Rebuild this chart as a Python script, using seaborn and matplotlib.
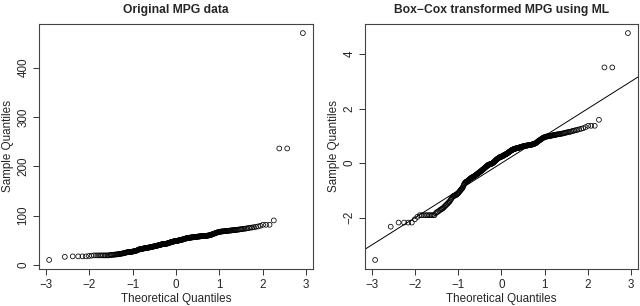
import matplotlib
matplotlib.use("Agg")
import matplotlib.pyplot as plt
import seaborn as sns
from statistics import NormalDist

mpg_sorted = [
    10.0, 16.2, 17.2, 17.2, 17.2, 17.2, 18.0, 18.7, 19.2, 19.2,
    19.2, 19.2, 19.2, 19.2, 19.2, 19.2, 19.2, 19.2, 19.8, 20.1,
    20.3, 20.5, 20.7, 21.0, 21.1, 21.3, 21.6, 22.0, 22.2, 22.5,
    22.8, 23.1, 23.4, 23.7, 24.2, 24.7, 25.1, 25.4, 25.7, 25.8,
    25.9, 26.0, 26.1, 26.4, 26.6, 26.8, 27.1, 27.3, 27.7, 28.0,
    28.4, 28.6, 28.8, 29.2, 29.8, 30.5, 31.0, 31.4, 31.7, 31.9,
    32.1, 32.2, 32.3, 32.6, 32.8, 33.1, 33.3, 33.5, 33.8, 33.9,
    34.1, 34.3, 34.4, 34.6, 34.7, 34.9, 35.0, 35.2, 35.3, 35.7,
    35.8, 36.0, 36.1, 36.3, 36.6, 36.8, 37.0, 37.1, 37.5, 37.7,
    37.8, 38.0, 38.2, 38.5, 38.7, 38.8, 39.0, 39.3, 39.5, 39.6,
    39.8, 40.1, 40.3, 40.5, 40.9, 41.0, 41.2, 41.4, 41.8, 42.0,
    42.1, 42.1, 42.3, 42.3, 42.5, 42.5, 42.7, 42.7, 42.9, 42.9,
    43.1, 43.3, 43.5, 43.7, 43.9, 44.3, 44.5, 44.9, 45.1, 45.3,
    45.7, 45.9, 46.1, 46.4, 46.6, 46.8, 47.0, 47.2, 47.4, 47.6,
    47.8, 47.8, 48.0, 48.0, 48.3, 48.3, 48.5, 48.5, 48.7, 48.9,
    49.2, 49.4, 49.6, 49.6, 49.8, 50.1, 50.3, 50.3, 50.5, 50.8,
    51.0, 51.2, 51.4, 51.7, 51.9, 52.1, 52.4, 52.6, 52.9, 53.1,
    53.3, 53.6, 53.8, 54.1, 54.1, 54.3, 54.6, 54.6, 54.8, 54.8,
    55.1, 55.1, 55.3, 55.3, 55.6, 55.6, 55.6, 55.8, 55.8, 55.8,
    56.1, 56.1, 56.3, 56.3, 56.6, 56.6, 56.8, 56.8, 57.1, 57.1,
    57.3, 57.3, 57.3, 57.6, 57.6, 57.6, 57.9, 57.9, 57.9, 58.1,
    58.1, 58.1, 58.4, 58.4, 58.4, 58.7, 58.7, 58.7, 58.7, 58.9,
    58.9, 59.2, 59.2, 59.5, 59.8, 59.8, 60.1, 60.3, 60.6, 60.9,
    61.5, 62.0, 62.3, 62.9, 63.2, 63.5, 64.0, 64.3, 64.9, 65.2,
    65.8, 66.1, 66.4, 66.8, 67.1, 67.4, 67.4, 67.7, 67.7, 68.0,
    68.0, 68.3, 68.3, 68.6, 68.6, 69.0, 69.0, 69.3, 69.3, 69.6,
    69.9, 69.9, 70.3, 70.3, 70.6, 70.9, 70.9, 71.3, 71.6, 71.9,
    72.3, 72.6, 73.0, 73.3, 73.6, 74.3, 74.7, 75.4, 75.7, 76.4,
    77.1, 77.9, 79.3, 81.3, 81.3, 81.3, 90.1, 236.0, 236.0, 470.0,
]

boxcox_sorted = [
    -3.55, -2.33, -2.18, -2.18, -2.18, -2.18, -2.06, -1.97, -1.91, -1.91,
    -1.91, -1.91, -1.91, -1.91, -1.91, -1.91, -1.91, -1.91, -1.84, -1.80,
    -1.78, -1.75, -1.72, -1.69, -1.68, -1.65, -1.62, -1.58, -1.55, -1.52,
    -1.49, -1.46, -1.43, -1.40, -1.35, -1.31, -1.27, -1.24, -1.21, -1.20,
    -1.19, -1.18, -1.17, -1.15, -1.13, -1.11, -1.08, -1.06, -1.03, -1.00,
    -0.97, -0.95, -0.93, -0.90, -0.85, -0.80, -0.76, -0.73, -0.71, -0.69,
    -0.68, -0.67, -0.66, -0.64, -0.63, -0.61, -0.59, -0.58, -0.56, -0.55,
    -0.54, -0.53, -0.52, -0.51, -0.50, -0.49, -0.48, -0.47, -0.46, -0.44,
    -0.43, -0.42, -0.41, -0.40, -0.38, -0.37, -0.36, -0.35, -0.33, -0.32,
    -0.31, -0.30, -0.29, -0.27, -0.26, -0.25, -0.24, -0.22, -0.21, -0.20,
    -0.19, -0.17, -0.16, -0.15, -0.13, -0.12, -0.11, -0.10, -0.08, -0.07,
    -0.06, -0.06, -0.05, -0.05, -0.04, -0.04, -0.03, -0.03, -0.02, -0.02,
    -0.01, 0.00, 0.01, 0.02, 0.03, 0.05, 0.06, 0.08, 0.09, 0.10,
    0.12, 0.13, 0.14, 0.15, 0.16, 0.17, 0.18, 0.19, 0.20, 0.21,
    0.22, 0.22, 0.23, 0.23, 0.24, 0.24, 0.25, 0.25, 0.26, 0.27,
    0.28, 0.29, 0.30, 0.30, 0.31, 0.32, 0.33, 0.33, 0.34, 0.35,
    0.36, 0.37, 0.38, 0.39, 0.40, 0.41, 0.42, 0.43, 0.44, 0.45,
    0.46, 0.47, 0.48, 0.49, 0.49, 0.50, 0.51, 0.51, 0.52, 0.52,
    0.53, 0.53, 0.54, 0.54, 0.55, 0.55, 0.55, 0.56, 0.56, 0.56,
    0.57, 0.57, 0.58, 0.58, 0.59, 0.59, 0.60, 0.60, 0.61, 0.61,
    0.62, 0.62, 0.62, 0.63, 0.63, 0.63, 0.64, 0.64, 0.64, 0.65,
    0.65, 0.65, 0.66, 0.66, 0.66, 0.67, 0.67, 0.67, 0.67, 0.68,
    0.68, 0.69, 0.69, 0.70, 0.71, 0.71, 0.72, 0.73, 0.74, 0.75,
    0.77, 0.79, 0.80, 0.82, 0.83, 0.84, 0.86, 0.87, 0.89, 0.90,
    0.92, 0.93, 0.94, 0.95, 0.96, 0.97, 0.97, 0.98, 0.98, 0.99,
    0.99, 1.00, 1.00, 1.01, 1.01, 1.02, 1.02, 1.03, 1.03, 1.04,
    1.05, 1.05, 1.06, 1.06, 1.07, 1.08, 1.08, 1.09, 1.10, 1.11,
    1.12, 1.13, 1.14, 1.15, 1.16, 1.18, 1.19, 1.21, 1.22, 1.24,
    1.26, 1.28, 1.32, 1.37, 1.37, 1.37, 1.59, 3.51, 3.51, 4.77,
]

# reference line on the Box-Cox panel
line_intercept = 0.0
line_slope = 1.0

titles = ["Original MPG data", "Box\u2212Cox transformed MPG using ML"]
yticks_list = [[0, 100, 200, 300, 400], [-2, 0, 2, 4]]
xticks = [-3, -2, -1, 0, 1, 2, 3]

sns.set_style("ticks")
plt.rcParams["font.family"] = ["Liberation Sans", "DejaVu Sans"]


def theoretical_quantiles(n):
    # R's ppoints for n > 10
    nd = NormalDist()
    return [nd.inv_cdf((i + 0.5) / n) for i in range(n)]


fig = plt.figure(figsize=(6.4, 3.06), dpi=100)
W, H = 640, 306
boxes = [(39, 24, 313, 269), (365, 24, 638, 269)]
datasets = [mpg_sorted, boxcox_sorted]

for k, (x0, y0, x1, y1) in enumerate(boxes):
    ax = fig.add_axes([x0 / W, 1 - y1 / H, (x1 - x0) / W, (y1 - y0) / H])
    vals = datasets[k]
    theo = theoretical_quantiles(len(vals))
    sns.scatterplot(x=theo, y=vals, ax=ax, marker="o", s=12,
                    fc="none", ec="black", linewidth=0.55, legend=False)
    if k == 1:
        ax.axline((0, line_intercept), slope=line_slope, color="black", lw=0.7)
    ax.margins(0.04)
    ax.set_xticks(xticks)
    ax.set_yticks(yticks_list[k])
    ax.set_title(titles[k], fontsize=8.7, fontweight="bold", pad=8)
    ax.set_xlabel("Theoretical Quantiles", fontsize=8.4, labelpad=1.5)
    ax.set_ylabel("Sample Quantiles", fontsize=8.4, labelpad=2)
    ax.tick_params(axis="both", labelsize=8.4, length=4, width=0.7,
                   color="#333333", pad=3)
    ax.tick_params(axis="y", labelrotation=90)
    for t in ax.get_yticklabels():
        t.set_va("center")
    for sp in ax.spines.values():
        sp.set_visible(True)
        sp.set_color("#444444")
        sp.set_linewidth(0.8)

fig.savefig("out.png", dpi=100)
